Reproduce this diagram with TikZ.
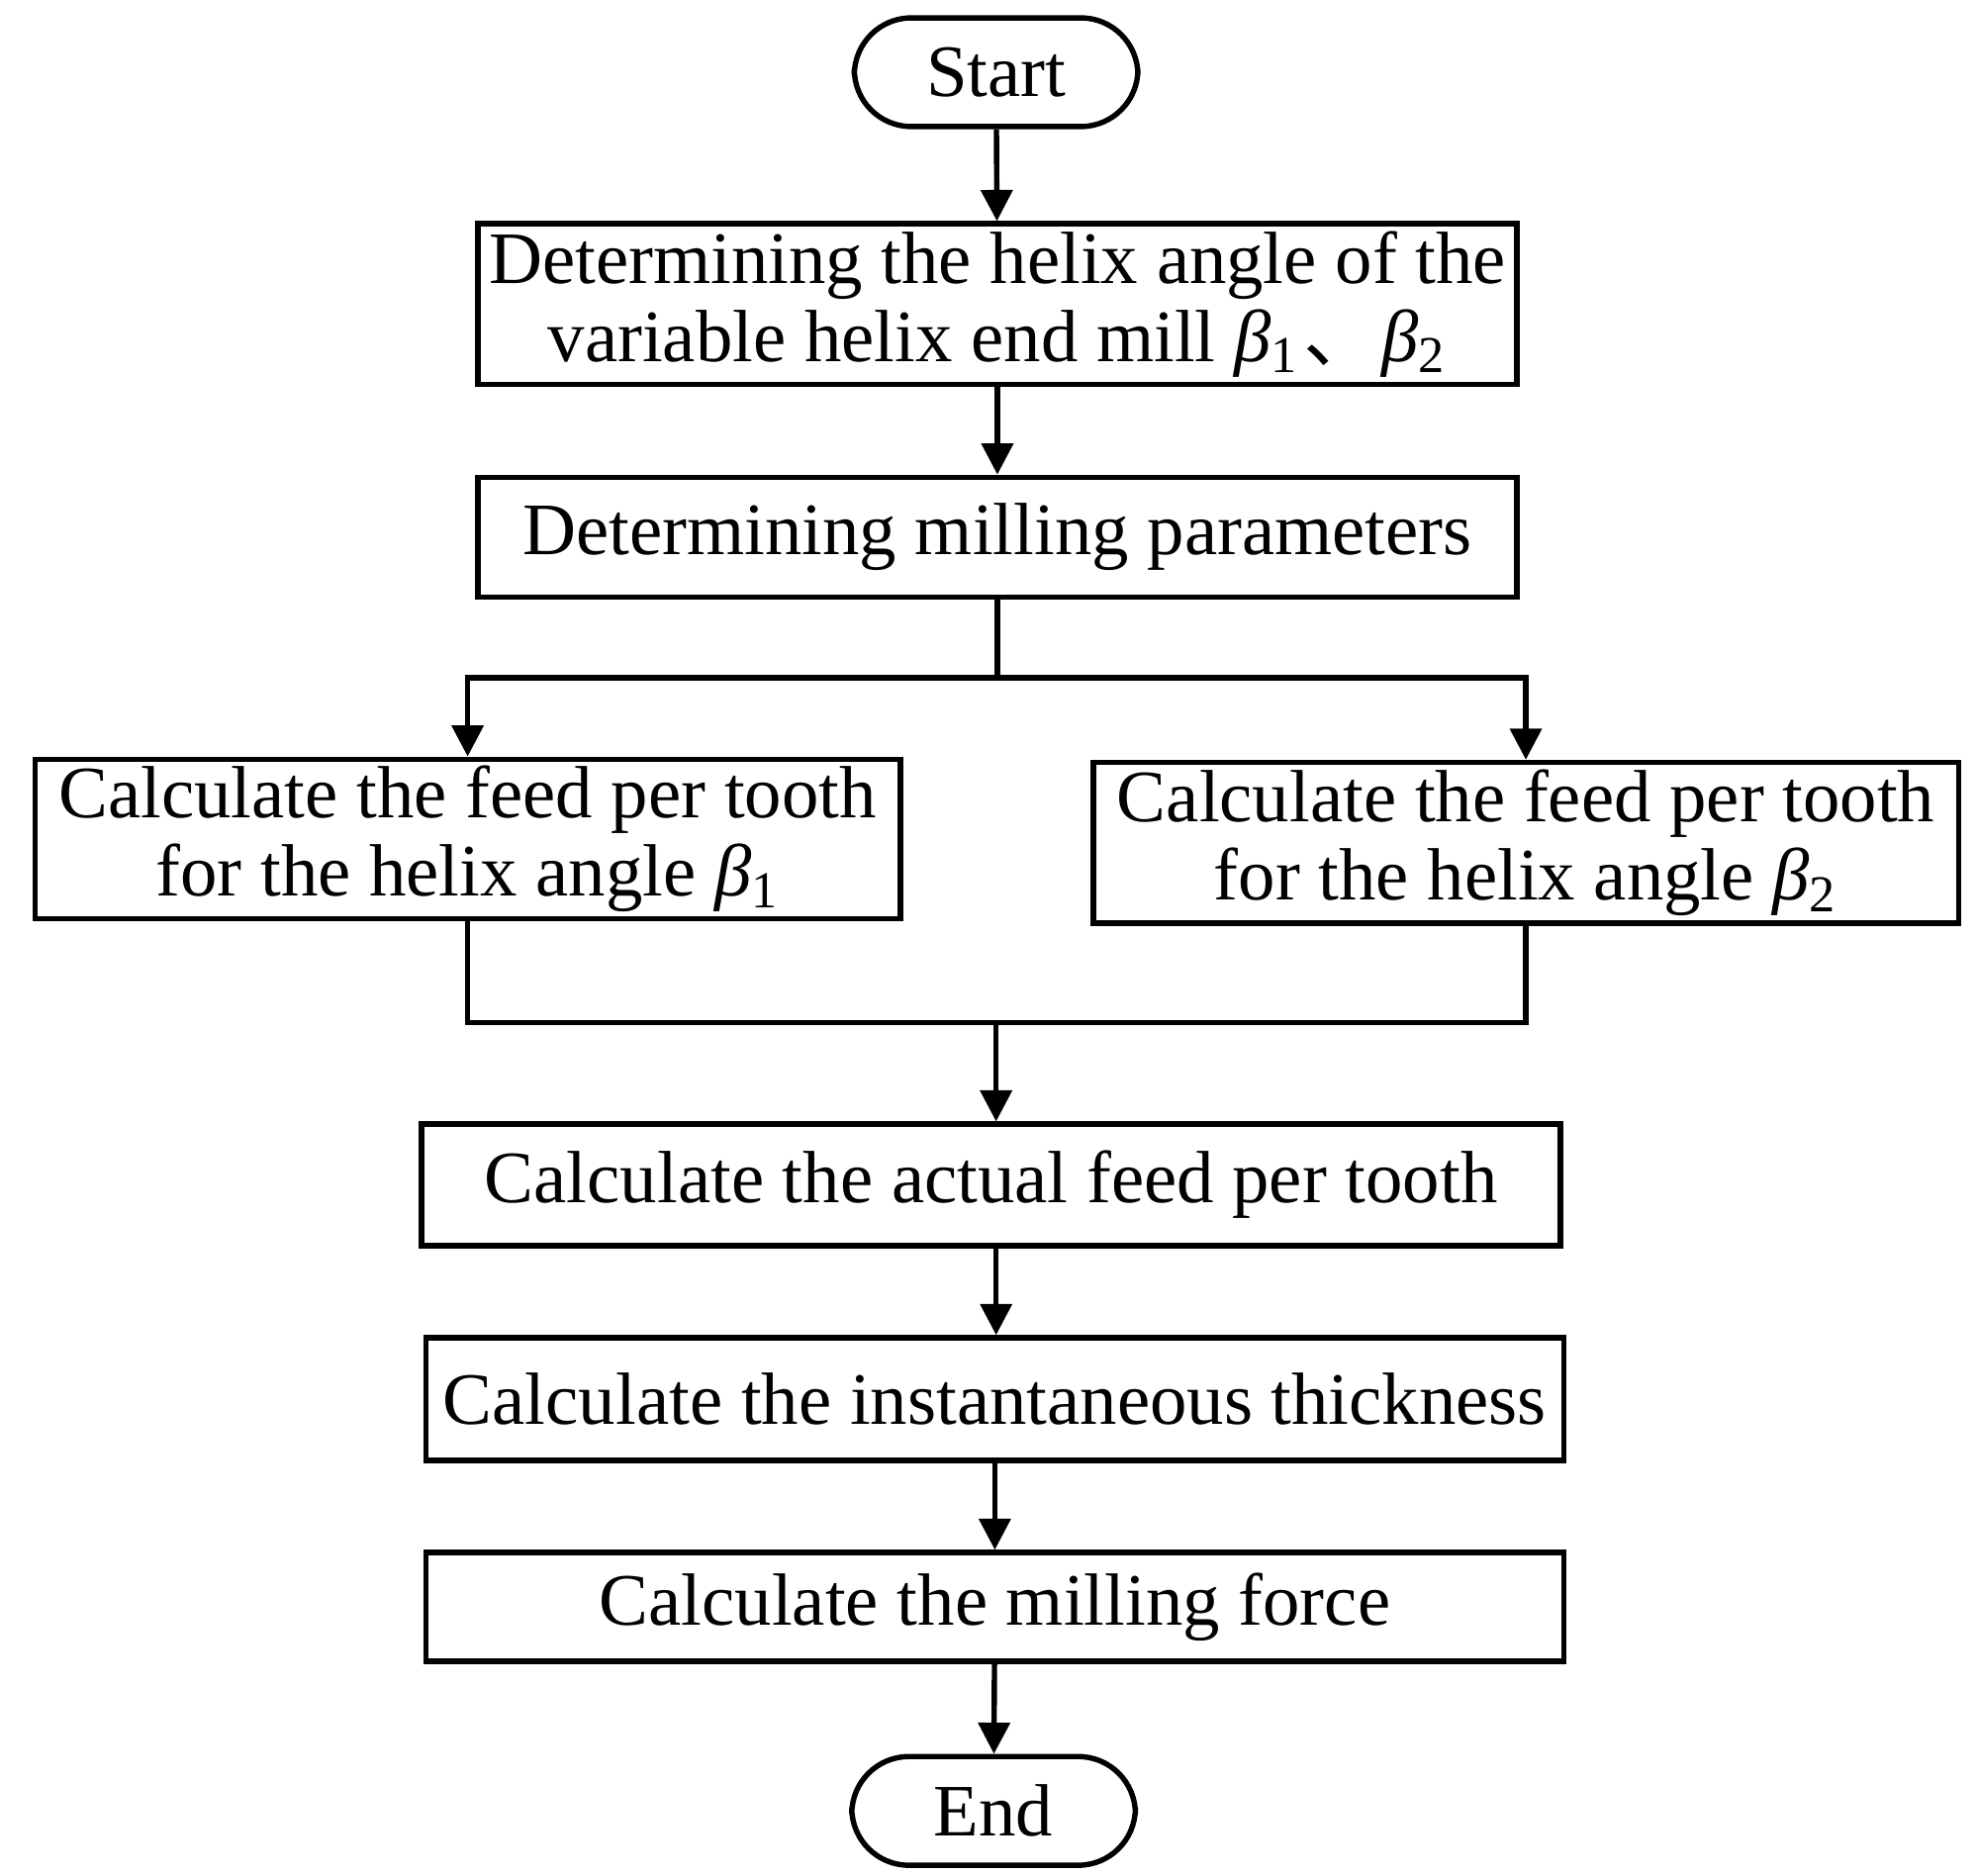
\documentclass[tikz,border=0pt]{standalone}
\usepackage{fontspec}
\setmainfont{Liberation Serif}
\newfontfamily\cjk{Noto Sans CJK SC}
\usetikzlibrary{arrows.meta}
\begin{document}
\begin{tikzpicture}[x=0.01cm,y=-0.01cm,
  box/.style={draw,line width=1.2pt,inner sep=0pt,align=center,font=\fontsize{16.6}{17.5}\selectfont},
  term/.style={box,rounded corners=0.45cm},
  arr/.style={line width=1.2pt,-{Triangle[length=7pt,width=7pt]}},
  ln/.style={line width=1.2pt}]
\useasboundingbox (0,0) rectangle (1560,1480);
\newcommand{\bx}[6]{\node[#6,minimum width=#3*0.01cm-1.2pt,minimum height=#4*0.01cm-1.2pt] (#1) at (#2) {#5};}
\bx{s}{786,57}{228}{90}{Start}{term}
\bx{b1}{787,240}{824}{131}{Determining the helix angle of the\\variable helix end mill \textit{β}\textsubscript{1}\kern1pt{\cjk 、}\kern1pt\textit{β}\textsubscript{2}}{box}
\bx{b2}{787,424}{824}{99}{Determining milling parameters}{box}
\bx{l}{369,662}{687}{130}{Calculate the feed per tooth\\for the helix angle \textit{β}\textsubscript{1}}{box}
\bx{r}{1204,665}{687}{131}{Calculate the feed per tooth\\for the helix angle \textit{β}\textsubscript{2}}{box}
\bx{a}{782,935}{903}{100}{Calculate the actual feed per tooth}{box}
\bx{i}{785,1104}{902}{101}{Calculate the instantaneous thickness}{box}
\bx{f}{785,1268}{902}{90}{Calculate the milling force}{box}
\bx{e}{784,1429}{228}{90}{End}{term}
\coordinate (sp) at (787,535);
\coordinate (mg) at (786,807);
\draw[arr] (s) -- (b1);
\draw[arr] (b1) -- (b2);
\draw[ln] (b2) -- (sp);
\draw[arr] (sp) -| (l.north);
\draw[arr] (sp) -| (r.north);
\draw[ln] (l.south) |- (mg);
\draw[ln] (r.south) |- (mg);
\draw[arr] (mg) -- (a.north -| mg);
\draw[arr] (a.south -| mg) -- (i.north -| mg);
\draw[arr] (i) -- (f);
\draw[arr] (f) -- (e);
\end{tikzpicture}
\end{document}
